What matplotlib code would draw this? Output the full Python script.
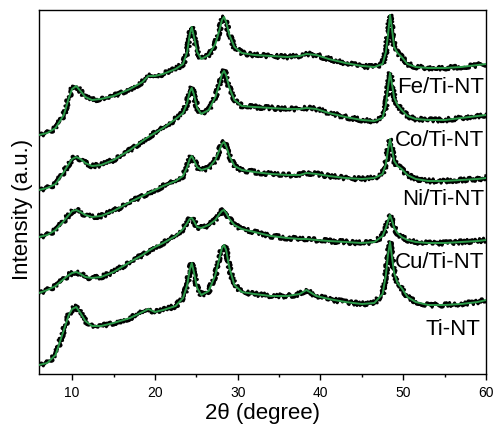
# plot_xrd_stack.py
import matplotlib
matplotlib.use("Agg")
import matplotlib.pyplot as plt

plt.rcParams["font.family"] = ["Liberation Sans", "DejaVu Sans"]

# =====================================
# Data (stacked intensities in a.u.)
# =====================================
two_theta = [6, 7, 8, 9, 9.6, 10.0, 10.5, 11.0, 11.6, 12.4, 13.5, 15, 17,
             18.5, 19.2, 20, 21, 22.5, 23.4, 23.9, 24.2, 24.45, 24.7, 25.1,
             25.6, 26.5, 27.3, 27.8, 28.1, 28.35, 28.6, 29.0, 29.6, 30.5, 32,
             34, 36, 37.5, 38.3, 39.5, 41, 43, 45, 46.5, 47.5, 47.9, 48.15,
             48.4, 48.65, 48.9, 49.3, 49.8, 50.5, 51.5, 53, 55, 57, 59, 60]

fe_ti_nt = [239, 241, 246, 259, 276, 285, 288, 283, 277, 274, 275, 278, 285,
            292, 298, 298, 300, 305, 310, 322, 339, 347, 338, 322, 315, 319,
            330, 344, 354, 357, 352, 339, 327, 321, 319, 318, 317, 318, 320,
            319, 315, 311, 308, 307, 310, 322, 339, 359, 344, 327, 321, 317,
            310, 307, 306, 306, 307, 309, 310]

co_ti_nt = [184, 186, 190, 202, 210, 215, 217, 215, 211, 208, 209, 214, 224,
            233, 237, 241, 246, 255, 261, 271, 282, 286, 280, 266, 260, 264,
            277, 290, 300, 303, 299, 286, 274, 268, 267, 266, 265, 265, 266,
            265, 261, 257, 254, 253, 256, 269, 286, 301, 289, 276, 269, 264,
            258, 255, 254, 254, 256, 258, 259]

ni_ti_nt = [137, 139, 144, 153, 159, 163, 164, 162, 159, 157, 158, 163, 172,
            178, 181, 184, 188, 193, 198, 207, 215, 218, 214, 207, 204, 206,
            214, 224, 230, 232, 228, 218, 208, 204, 202, 200, 199, 199, 201,
            200, 198, 196, 195, 196, 200, 210, 224, 235, 224, 213, 208, 205,
            199, 195, 193, 193, 194, 195, 196]

cu_ti_nt = [81, 84, 88, 95, 99, 101, 102, 100, 97, 96, 97, 102, 112,
            119, 123, 127, 131, 138, 145, 151, 155, 156, 153, 147, 146, 149,
            154, 160, 163, 164, 161, 155, 149, 145, 142, 138, 136, 135, 135,
            134, 133, 132, 131, 132, 138, 146, 153, 159, 153, 146, 141, 137,
            134, 132, 131, 131, 132, 133, 134]

ti_nt = [9, 11, 19, 44, 59, 65, 67, 61, 53, 48, 48, 51, 56,
         62, 65, 62, 64, 68, 76, 89, 104, 111, 102, 86, 79, 83,
         99, 116, 126, 129, 124, 106, 89, 82, 80, 78, 78, 80, 84,
         78, 75, 72, 70, 71, 80, 99, 119, 132, 116, 101, 91, 86,
         77, 72, 69, 69, 70, 72, 74]

series = [fe_ti_nt, co_ti_nt, ni_ti_nt, cu_ti_nt, ti_nt]
labels = ["Fe/Ti-NT", "Co/Ti-NT", "Ni/Ti-NT", "Cu/Ti-NT", "Ti-NT"]
label_pos = [(59.8, 286), (59.8, 233), (59.8, 174), (59.8, 111), (59.3, 44)]

# =====================================
# Plot
# =====================================
fig = plt.figure(figsize=(4.96, 4.25), dpi=100)
ax = fig.add_axes([0.0786, 0.12, 0.9014, 0.8565])

for ys in series:
    # raw pattern (noisy look via sketch style)
    raw, = ax.plot(two_theta, ys, color="black", lw=2.2, zorder=2)
    raw.set_sketch_params(scale=2.2, length=0.5, randomness=3)
    # fitted curve
    ax.plot(two_theta, ys, color="#2b9a48", lw=1.4, zorder=3)

for text, (x, y) in zip(labels, label_pos):
    ax.text(x, y, text, ha="right", va="center", fontsize=16)

ax.set_xlim(6, 60)
ax.set_ylim(0, 364)
ax.set_xticks([10, 20, 30, 40, 50, 60])
ax.set_xticks([15, 25, 35, 45, 55], minor=True)
ax.set_yticks([])
ax.tick_params(axis="x", which="major", direction="out", length=4.5, width=1,
               labelsize=10, pad=4)
ax.tick_params(axis="x", which="minor", direction="out", length=2.5, width=1)
for s in ax.spines.values():
    s.set_linewidth(1.0)

ax.set_xlabel("2θ (degree)", fontsize=16, labelpad=2)
ax.set_ylabel("Intensity (a.u.)", fontsize=16)
ax.yaxis.set_label_coords(-0.014, 0.453)

fig.savefig("out.png", dpi=100)
plt.close(fig)
